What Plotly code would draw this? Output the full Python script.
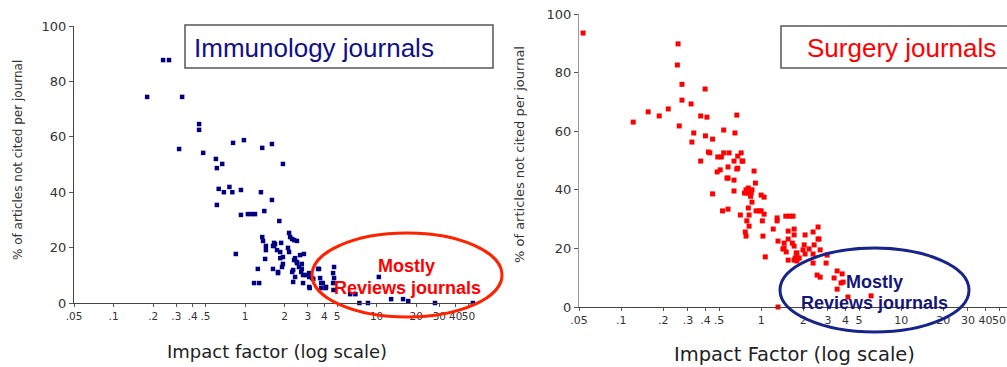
import plotly.graph_objects as go
import math

# ---- data: impact factor vs % of articles not cited ----
immuno_if = [0.238, 0.264, 0.18, 0.332, 0.447, 0.447, 0.315, 0.48, 0.81, 0.98,
             1.35, 1.6, 1.94, 0.6, 0.67, 0.61, 0.63, 0.69, 0.76, 0.80,
             0.93, 1.32, 0.61, 0.93, 1.05, 1.12, 1.19, 1.40, 1.60, 1.82,
             0.85, 1.25, 1.17, 1.28, 1.35, 1.37, 1.44, 1.44, 1.42, 1.66,
             1.66, 1.75, 1.85, 1.88, 1.85, 1.63, 1.78, 1.91, 2.16, 2.2,
             2.36, 2.48, 2.12, 2.4, 2.48, 2.57, 2.28, 2.4, 2.67, 2.8,
             2.7, 2.7, 2.9, 3.07, 3.07, 3.1, 3.3, 3.65, 3.72, 3.9,
             4.1, 3.8, 4.75, 4.75, 6.3, 6.9, 4.7, 7.4, 8.6, 10.4,
             12.9, 15.9, 17.4, 27.8, 54.0, 1.63, 1.69, 2.28, 1.94, 2.16,
             1.94, 2.36, 2.62, 2.48, 2.32, 2.76, 3.07, 3.23, 3.07, 3.59,
             3.79, 4.13, 4.67, 4.67, 2.76, 2.32, 1.78]
immuno_pct = [87.7, 87.7, 74.4, 74.4, 64.6, 62.5, 55.6, 54.2, 57.8, 58.8,
              56.0, 57.4, 50.2, 52.0, 50.2, 48.7, 41.2, 40.0, 41.9, 40.0,
              40.8, 40.0, 35.4, 31.8, 32.1, 32.1, 32.1, 33.2, 37.2, 29.6,
              17.7, 12.3, 7.2, 7.2, 23.8, 22.4, 20.6, 19.1, 15.9, 20.6,
              21.7, 19.1, 18.4, 21.7, 16.2, 12.3, 11.2, 13.0, 25.3, 23.8,
              22.7, 22.4, 19.9, 16.2, 14.4, 13.0, 11.2, 9.4, 11.2, 17.7,
              14.1, 12.3, 10.1, 10.5, 9.4, 5.4, 8.7, 12.3, 9.0, 7.2,
              5.4, 5.4, 13.0, 9.0, 3.2, 3.2, 4.7, 0.0, 0.0, 9.4,
              1.4, 1.4, 0.7, 0.0, 0.0, 20.6, 21.3, 23.1, 16.6, 18.4,
              14.1, 15.5, 17.3, 14.8, 11.9, 10.1, 10.8, 9.0, 5.8, 12.3,
              7.2, 5.8, 10.8, 7.2, 7.2, 7.6, 10.8]

surgery_if = [0.0535, 0.255, 0.252, 0.272, 0.272, 0.316, 0.398, 0.122, 0.156, 0.187,
              0.217, 0.26, 0.33, 0.32, 0.37, 0.41, 0.40, 0.45, 0.37, 0.42,
              0.43, 0.45, 0.54, 0.65, 0.67, 0.49, 0.52, 0.54, 0.59, 0.485,
              0.51, 0.58, 0.64, 0.68, 0.72, 0.68, 0.73, 0.58, 0.64, 0.64,
              0.53, 0.58, 0.71, 0.76, 0.79, 0.82, 0.85, 0.81, 0.86, 0.89,
              0.91, 0.86, 0.81, 0.82, 0.79, 0.82, 0.77, 0.78, 0.92, 1.0,
              1.05, 1.02, 1.0, 1.05, 1.03, 1.07, 1.22, 1.3, 1.3, 1.32,
              1.43, 1.51, 1.5, 1.6, 1.69, 1.56, 1.56, 1.56, 1.72, 1.72,
              1.67, 1.72, 1.75, 1.8, 1.8, 1.87, 2.06, 2.03, 1.99, 2.06,
              2.2, 2.35, 2.39, 2.35, 2.55, 2.59, 2.64, 2.35, 2.51, 2.64,
              2.91, 3.32, 3.49, 3.79, 3.85, 3.49, 4.17, 6.1, 1.32, 0.67,
              0.57, 0.74, 0.97, 1.46, 1.46, 1.72, 1.84, 1.78, 2.55, 2.96,
              3.72, 0.78, 0.84]
surgery_pct = [93.5, 89.8, 82.6, 76.0, 70.6, 69.3, 74.4, 63.1, 66.6, 65.2,
               67.6, 61.8, 59.4, 56.3, 65.2, 64.8, 58.4, 57.3, 49.8, 52.9,
               52.6, 38.6, 60.4, 59.4, 65.5, 51.2, 51.2, 52.6, 52.6, 46.1,
               46.8, 47.8, 49.8, 51.5, 52.6, 47.4, 49.8, 44.0, 43.3, 39.6,
               32.8, 33.4, 31.4, 38.9, 38.9, 38.9, 38.9, 40.6, 40.0, 46.4,
               42.3, 35.8, 33.8, 31.4, 29.4, 27.6, 25.6, 24.2, 32.8, 32.8,
               31.7, 29.4, 38.2, 37.5, 24.2, 17.1, 26.6, 30.4, 29.4, 22.5,
               19.8, 18.8, 31.0, 31.0, 31.0, 23.2, 25.9, 16.0, 26.6, 24.6,
               21.8, 20.8, 16.7, 15.7, 18.4, 16.7, 24.6, 21.2, 19.5, 18.1,
               19.8, 25.6, 21.2, 18.1, 27.3, 23.2, 19.5, 15.0, 10.9, 10.2,
               15.0, 9.9, 12.3, 11.3, 8.5, 6.1, 3.4, 3.8, 0.0, 47.1,
               44.0, 49.8, 32.8, 21.8, 20.1, 16.0, 16.7, 18.4, 23.2, 17.7,
               8.2, 40.0, 37.8]

tick_vals = [0.05, 0.1, 0.2, 0.3, 0.4, 0.5, 1, 2, 3, 4, 5, 10, 20, 30, 40, 50]
tick_text = [".05", ".1", ".2", ".3", ".4", ".5", "1", "2", "3", "4", "5",
             "10", "20", "30", "40", "50"]
y_ticks = [0, 20, 40, 60, 80, 100]

W, H = 1007, 367


def px(x):
    return x / W


def py(y):
    return 1 - y / H


AX_FONT = "DejaVu Sans"
TITLE_FONT = "Liberation Sans, Arial"
NAVY = "#10108a"
RED = "#ff0000"

fig = go.Figure()

fig.add_trace(go.Scatter(
    x=immuno_if, y=immuno_pct, mode="markers", xaxis="x", yaxis="y",
    marker=dict(symbol="square", size=4.5, color="#000080", line=dict(width=0)),
    cliponaxis=False, showlegend=False, hoverinfo="skip"))

fig.add_trace(go.Scatter(
    x=surgery_if, y=surgery_pct, mode="markers", xaxis="x2", yaxis="y2",
    marker=dict(symbol="square", size=5, color=RED, line=dict(width=0)),
    cliponaxis=False, showlegend=False, hoverinfo="skip"))

lo = math.log10(0.05)


def xaxis(left, right, per_decade, font_size):
    return dict(
        type="log", domain=[px(left), px(right)],
        range=[lo, lo + (right - left) / per_decade],
        tickvals=tick_vals, ticktext=tick_text, tickangle=0,
        tickfont=dict(family=AX_FONT, size=font_size, color="#333"),
        ticks="outside", ticklen=3, tickcolor="#555", tickwidth=1,
        showline=True, linecolor="#444", linewidth=1.2, automargin=False,
        showgrid=False, zeroline=False, fixedrange=True)


def yaxis(bottom, top, anchor):
    return dict(
        domain=[py(bottom), py(top)], range=[0, 100], anchor=anchor,
        tickvals=y_ticks, ticktext=[str(v) for v in y_ticks],
        tickfont=dict(family=AX_FONT, size=13, color="#333"),
        ticks="outside", ticklen=4, tickcolor="#555", tickwidth=1,
        showline=True, linecolor="#444", linewidth=1.2, automargin=False,
        showgrid=False, zeroline=False, fixedrange=True)


ax1 = xaxis(74, 477, 131.5, 10.5)
ax1["anchor"] = "y"
ax2 = xaxis(579, 1007, 140, 11)
ax2["anchor"] = "y2"
ay2 = yaxis(307, 14, "x2")
ay2["linecolor"] = "#999"

fig.update_layout(
    width=W, height=H, autosize=False,
    margin=dict(l=0, r=0, t=0, b=0, pad=0, autoexpand=False),
    paper_bgcolor="white", plot_bgcolor="white",
    xaxis=ax1, yaxis=yaxis(303, 26, "x"),
    xaxis2=ax2, yaxis2=ay2,
)

shapes = [
    # title boxes
    dict(type="rect", xref="paper", yref="paper",
         x0=px(185), x1=px(493), y0=py(68), y1=py(25),
         line=dict(color="#555", width=1.5), fillcolor="white", layer="below"),
    dict(type="rect", xref="paper", yref="paper",
         x0=px(781), x1=px(1040), y0=py(68), y1=py(26),
         line=dict(color="#555", width=1.5), fillcolor="white", layer="below"),
    # "Mostly reviews" ellipses
    dict(type="circle", xref="paper", yref="paper",
         x0=px(312), x1=px(502), y0=py(317), y1=py(233),
         line=dict(color="#ff2200", width=3)),
    dict(type="circle", xref="paper", yref="paper",
         x0=px(780), x1=px(969), y0=py(332), y1=py(248),
         line=dict(color="#17258a", width=3)),
]
fig.update_layout(shapes=shapes)


def label(x, y, text, size, color, family=TITLE_FONT, xanchor="center",
          angle=0, bold=False):
    if bold:
        text = "<b>" + text + "</b>"
    fig.add_annotation(x=px(x), y=py(y), xref="paper", yref="paper",
                       text=text, showarrow=False, xanchor=xanchor,
                       yanchor="middle", textangle=angle,
                       font=dict(family=family, size=size, color=color))


label(192, 48, "Immunology journals", 26, NAVY, xanchor="left")
label(805, 48, "Surgery journals", 26, RED, xanchor="left")

label(406, 266, "Mostly", 18, RED, bold=True)
label(407, 288, "Reviews journals", 18, RED, bold=True)
label(874, 282, "Mostly", 18, "#15157a", bold=True)
label(874, 303, "Reviews journals", 18, "#15157a", bold=True)

label(277, 351, "Impact factor (log scale)", 18, "#222", family=AX_FONT)
label(794, 354, "Impact Factor (log scale)", 19.5, "#222", family=AX_FONT)
label(18, 160, "% of articles not cited per journal", 12, "#333",
      family=AX_FONT, angle=-90)
label(519, 155, "% of articles not cited per journal", 13, "#333",
      family=AX_FONT, angle=-90)

fig.write_html("out.html")
